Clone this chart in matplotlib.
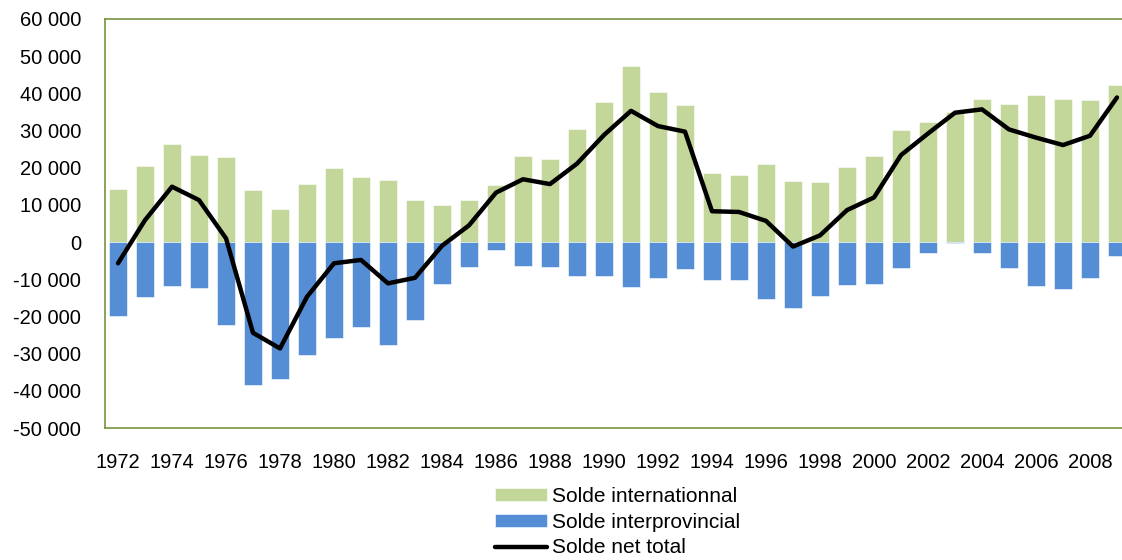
import matplotlib
matplotlib.use("Agg")
import matplotlib.pyplot as plt
import numpy as np

plt.rcParams['font.family'] = ['Liberation Sans', 'DejaVu Sans']

# données (solde migratoire)
annees = list(range(1972, 2010))
solde_international = [14300, 20400, 26400, 23500, 23000, 14100, 8800, 15600, 19800, 17500,
                       16600, 11200, 10100, 11400, 15300, 23200, 22300, 30400, 37700, 47400,
                       40500, 36900, 18500, 18100, 20900, 16500, 16100, 20100, 23100, 30100,
                       32200, 34900, 38400, 37200, 39600, 38600, 38200, 42300]
solde_interprovincial = [-19900, -14700, -11800, -12300, -22200, -38500, -36900, -30300, -25700, -22800,
                         -27600, -21000, -11200, -6800, -2200, -6500, -6800, -9100, -9000, -12200,
                         -9700, -7300, -10200, -10200, -15400, -17600, -14500, -11600, -11300, -7000,
                         -3000, -300, -3000, -7100, -11800, -12600, -9700, -3800]
solde_net = [-5700, 5900, 14900, 11300, 1000, -24400, -28600, -14700, -5700, -4800,
             -11100, -9600, -1000, 4500, 13300, 16900, 15600, 21100, 28800, 35300,
             31200, 29700, 8300, 8100, 5700, -1200, 1800, 8600, 12000, 23400,
             29200, 34800, 35700, 30300, 28100, 26100, 28600, 38900]
yticks = list(range(-50000, 60001, 10000))

vert = "#C4D79B"
bleu = "#558ED5"
bordure = "#77933C"

fig = plt.figure(figsize=(11.22, 5.6), dpi=100)
ax = fig.add_axes([104.5 / 1122, 132 / 560, 1026 / 1122, 409 / 560])

x = np.arange(len(annees))
b1 = ax.bar(x, solde_international, width=0.67, color=vert, edgecolor="white", linewidth=0.4,
            label="Solde internationnal", zorder=2)
b2 = ax.bar(x, solde_interprovincial, width=0.67, color=bleu, edgecolor="white", linewidth=0.4,
            label="Solde interprovincial", zorder=2)
l1, = ax.plot(x, solde_net, color="black", linewidth=3.2, solid_joinstyle="round",
              solid_capstyle="round", label="Solde net total", zorder=3)

ax.set_xlim(-0.5, len(annees) - 0.5)
ax.set_ylim(-50000, 60000)
ax.set_yticks(yticks)
ax.set_yticklabels([("-" if v < 0 else "") + f"{abs(v):,}".replace(",", " ") for v in yticks])
ax.set_xticks(x[::2])
ax.set_xticklabels([str(a) for a in annees[::2]])
ax.tick_params(axis="y", length=0, pad=17, labelsize=14.5)
ax.tick_params(axis="x", length=0, pad=18, labelsize=14.5)

for s in ["left", "top", "bottom", "right"]:
    ax.spines[s].set_color(bordure)
    ax.spines[s].set_linewidth(1.2)

fig.legend([b1, b2, l1], ["Solde internationnal", "Solde interprovincial", "Solde net total"],
           loc="upper left", bbox_to_anchor=(495 / 1122, 1 - 487 / 560), frameon=False,
           fontsize=15, handlelength=2.5, handleheight=0.55, handletextpad=0.25,
           labelspacing=0.32, borderaxespad=0, borderpad=0)

fig.savefig("out.png", dpi=100)
